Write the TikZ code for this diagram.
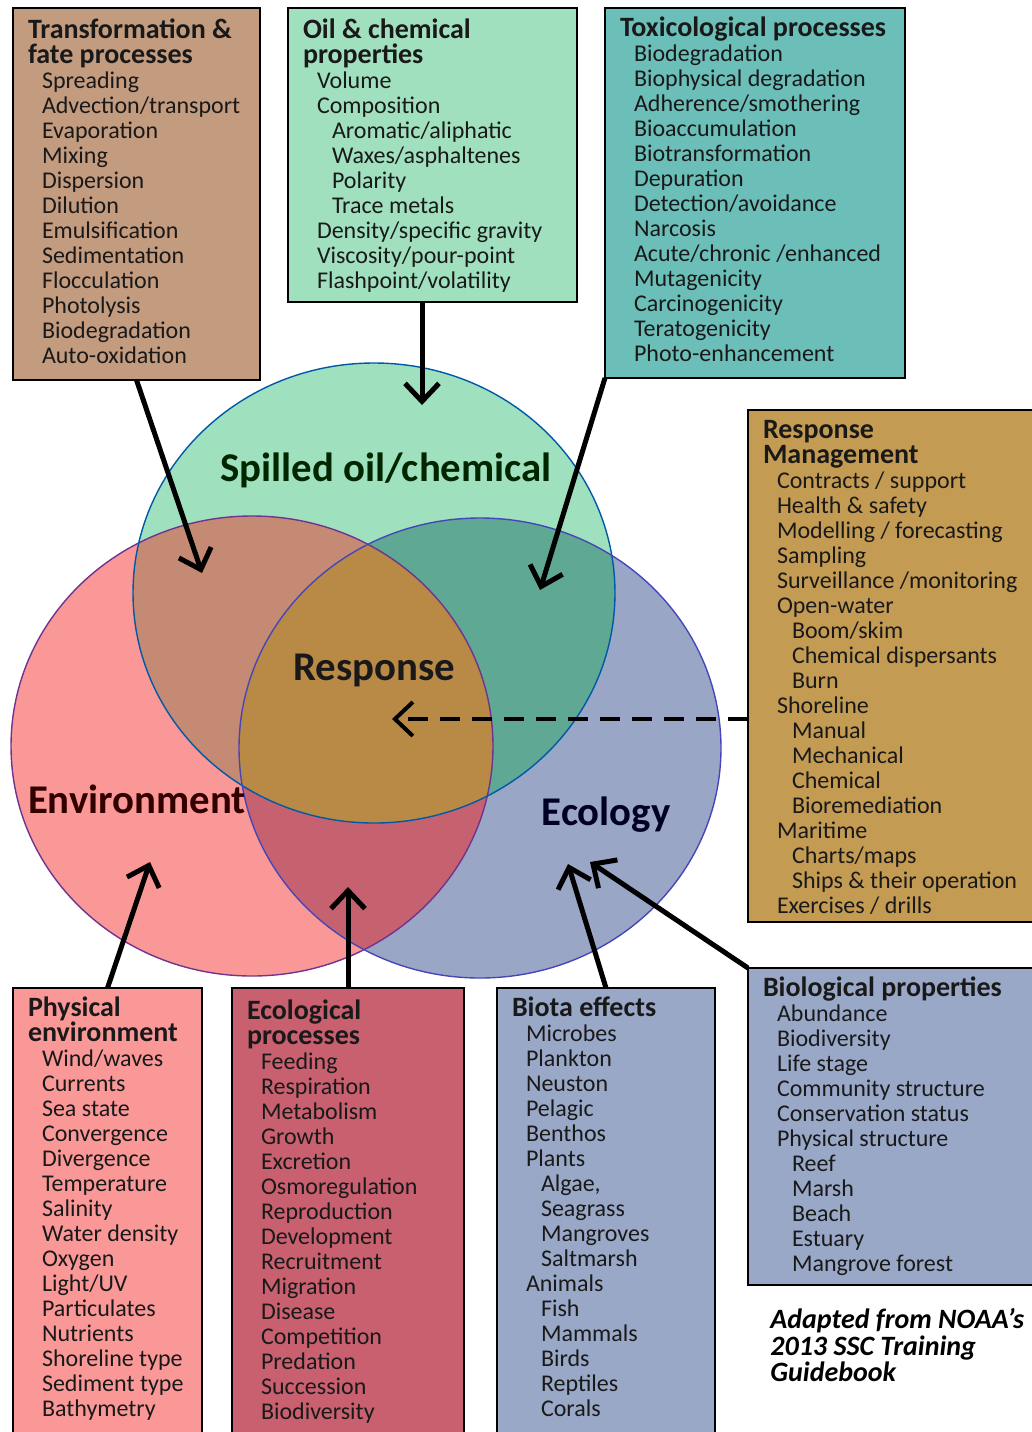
\documentclass[tikz,border=0pt]{standalone}
\usepackage{fontspec}
\setmainfont{Carlito}
\usetikzlibrary{arrows.meta, positioning, calc}
\definecolor{transc}{HTML}{C39B7F}
\definecolor{oilc}{HTML}{A0E0BE}
\definecolor{toxc}{HTML}{6CBEB8}
\definecolor{respc}{HTML}{C49B52}
\definecolor{physc}{HTML}{FA9898}
\definecolor{ecopc}{HTML}{C86070}
\definecolor{biotc}{HTML}{9AA8C8}
% Venn regions
\definecolor{vgreen}{HTML}{9FE0BE}
\definecolor{vred}{HTML}{FA9898}
\definecolor{vblue}{HTML}{9AA6C6}
\definecolor{vrg}{HTML}{C58A74}
\definecolor{vgb}{HTML}{5FA893}
\definecolor{vrb}{HTML}{C6626F}
\definecolor{vall}{HTML}{B88A45}
\newcommand{\boxtext}[3]{\begin{minipage}[t][#2][t]{#1}\raggedright
  \fontsize{12}{12.5}\selectfont\rule{0pt}{10.5pt}#3\end{minipage}}
\newcommand{\hd}[1]{{\bfseries\fontsize{14}{12.5}\selectfont #1}}
\newcommand{\ia}{\hspace*{7pt}}
\newcommand{\ib}{\hspace*{14.5pt}}

\begin{document}
\begin{tikzpicture}[x=0.5pt, y=-0.5pt,
  box/.style={draw=black, line width=1.4pt, anchor=north west, outer sep=0pt,
    inner xsep=7.5pt, inner ysep=3.5pt, text=black!90},
  arr/.style={line width=2.5pt, -{Straight Barb[length=9pt,width=17pt]}},
  darr/.style={arr, line width=2pt, dash pattern=on 10pt off 6pt},
  rad/.style={x radius=241, y radius=230},
  ring/.style={line width=0.7pt},
  big/.style={font=\fontsize{20.4}{22}\selectfont\bfseries}
]
\useasboundingbox (0,0) rectangle (1032,1432);

% Venn circles
\coordinate (envc) at (252,746);
\coordinate (oilv) at (374,593);
\coordinate (ecoc) at (480,748);
\fill[vred] (envc) ellipse [rad];
\fill[vgreen] (oilv) ellipse [rad];
\fill[vblue] (ecoc) ellipse [rad];
\begin{scope}
  \clip (envc) ellipse [rad];
  \fill[vrg] (oilv) ellipse [rad];
  \fill[vrb] (ecoc) ellipse [rad];
\end{scope}
\begin{scope}
  \clip (oilv) ellipse [rad];
  \fill[vgb] (ecoc) ellipse [rad];
  \clip (envc) ellipse [rad];
  \fill[vall] (ecoc) ellipse [rad];
\end{scope}
\draw[ring, draw=red!40!blue!60!gray] (envc) ellipse [rad];
\draw[ring, draw=teal!70!blue] (oilv) ellipse [rad];
\draw[ring, draw=blue!45!gray] (ecoc) ellipse [rad];

\node[big, text=green!15!black, anchor=base] (spill) at (386,481) {Spilled oil/chemical};
\node[big, text=black!90, anchor=base] (resp) at (374,680) {Response};
\node[big, text=red!20!black, anchor=base west] (envl) at (21,813) {Environment};
\node[big, text=blue!15!black, anchor=base] (ecol) at (606,825) {Ecology};

% Top row
\node[box, fill=transc] (trans) at (13,8) {\boxtext{108.5pt}{179pt}{%
  \rule{0pt}{11.5pt}\hd{Transformation \&}\\ \hd{fate processes}\\
  \ia Spreading\\ \ia Advection/transport\\ \ia Evaporation\\ \ia Mixing\\
  \ia Dispersion\\ \ia Dilution\\ \ia Emulsification\\ \ia Sedimentation\\
  \ia Flocculation\\ \ia Photolysis\\ \ia Biodegradation\\ \ia Auto-oxidation}};
\node[box, fill=oilc, right=14pt of trans.north east, anchor=north west] (oil) {\boxtext{129.5pt}{140pt}{%
  \rule{0pt}{11.5pt}\hd{Oil \& chemical}\\ \hd{properties}\\
  \ia Volume\\ \ia Composition\\ \ib Aromatic/aliphatic\\ \ib Waxes/asphaltenes\\
  \ib Polarity\\ \ib Trace metals\\ \ia Density/specific gravity\\
  \ia Viscosity/pour-point\\ \ia Flashpoint/volatility}};
\node[box, fill=toxc, right=14pt of oil.north east, anchor=north west] (toxic) {\boxtext{135pt}{178pt}{%
  \hd{Toxicological processes}\\
  \ia Biodegradation\\ \ia Biophysical degradation\\ \ia Adherence/smothering\\
  \ia Bioaccumulation\\ \ia Biotransformation\\ \ia Depuration\\
  \ia Detection/avoidance\\ \ia Narcosis\\ \ia Acute/chronic /enhanced\\
  \ia Mutagenicity\\ \ia Carcinogenicity\\ \ia Teratogenicity\\ \ia Photo-enhancement}};

% Right column
\node[box, fill=respc] (respm) at (748,410) {\boxtext{135pt}{249pt}{%
  \hd{Response}\\ \hd{Management}\\
  \ia Contracts / support\\ \ia Health \& safety\\ \ia Modelling / forecasting\\
  \ia Sampling\\ \ia Surveillance /monitoring\\ \ia Open-water\\
  \ib Boom/skim\\ \ib Chemical dispersants\\ \ib Burn\\ \ia Shoreline\\
  \ib Manual\\ \ib Mechanical\\ \ib Chemical\\ \ib Bioremediation\\
  \ia Maritime\\ \ib Charts/maps\\ \ib Ships \& their operation\\
  \ia Exercises / drills}};
\node[box, fill=biotc] (biop) at (748,968) {\boxtext{131pt}{151.5pt}{%
  \hd{Biological properties}\\
  \ia Abundance\\ \ia Biodiversity\\ \ia Life stage\\ \ia Community structure\\
  \ia Conservation status\\ \ia Physical structure\\ \ib Reef\\ \ib Marsh\\
  \ib Beach\\ \ib Estuary\\ \ib Mangrove forest}};

% Bottom row
\node[box, fill=physc] (phys) at (13,988) {\boxtext{79.5pt}{224pt}{%
  \hd{Physical}\\ \hd{environment}\\
  \ia Wind/waves\\ \ia Currents\\ \ia Sea state\\ \ia Convergence\\
  \ia Divergence\\ \ia Temperature\\ \ia Salinity\\ \ia Water density\\
  \ia Oxygen\\ \ia Light/UV\\ \ia Particulates\\ \ia Nutrients\\
  \ia Shoreline type\\ \ia Sediment type\\ \ia Bathymetry}};
\node[box, fill=ecopc, right=15pt of phys.north east, anchor=north west] (ecop) {\boxtext{101pt}{224pt}{%
  \rule{0pt}{12pt}\hd{Ecological}\\ \hd{processes}\\
  \ia Feeding\\ \ia Respiration\\ \ia Metabolism\\ \ia Growth\\ \ia Excretion\\
  \ia Osmoregulation\\ \ia Reproduction\\ \ia Development\\ \ia Recruitment\\
  \ia Migration\\ \ia Disease\\ \ia Competition\\ \ia Predation\\
  \ia Succession\\ \ia Biodiversity}};
\node[box, fill=biotc, right=16.5pt of ecop.north east, anchor=north west] (biota) {\boxtext{94pt}{224pt}{%
  \hd{Biota effects}\\
  \ia Microbes\\ \ia Plankton\\ \ia Neuston\\ \ia Pelagic\\ \ia Benthos\\
  \ia Plants\\ \ib Algae,\\ \ib Seagrass\\ \ib Mangroves\\ \ib Saltmarsh\\
  \ia Animals\\ \ib Fish\\ \ib Mammals\\ \ib Birds\\ \ib Reptiles\\ \ib Corals}};

\node[anchor=north west, inner sep=0pt, align=left,
  font=\fontsize{14}{13.3}\selectfont\bfseries\itshape] (src) at (770,1308)
  {Adapted from NOAA's\\2013 SSC Training\\Guidebook};

% Arrow tips
\coordinate (transtip) at (202,573);
\coordinate (oiltip) at (422,405);
\coordinate (toxtip) at (540,590);
\coordinate (resptip) at (392,719);
\coordinate (phystip) at (150,862);
\coordinate (ecoptip) at (348,887);
\coordinate (biotatip) at (568,864);
\coordinate (bioptip) at (590,862);

% Arrows
\draw[arr] (trans.south) -- (transtip);
\draw[arr] (oil.south -| oiltip) -- (oiltip);
\draw[arr] (toxic.south west) -- (toxtip);
\draw[darr] (respm.west |- resptip) -- (resptip);
\draw[arr] (phys.north) -- (phystip);
\draw[arr] (ecop.north) -- (ecoptip);
\draw[arr] (biota.north) -- (biotatip);
\draw[arr] (biop.north west) -- (bioptip);

\end{tikzpicture}
\end{document}
